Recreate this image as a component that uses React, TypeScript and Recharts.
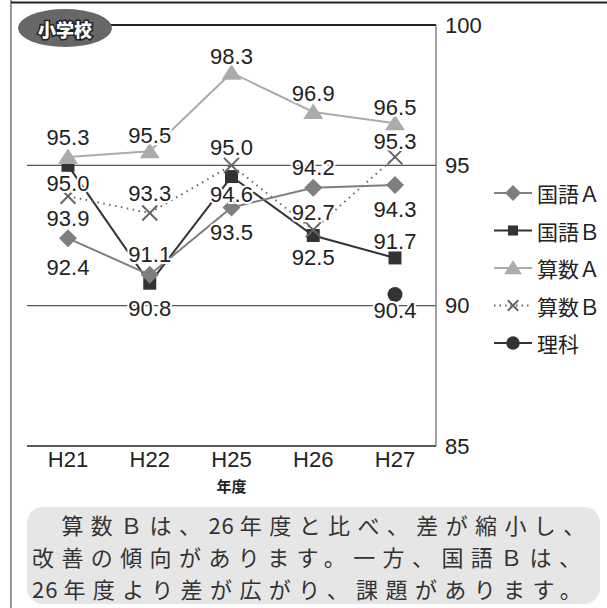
import React from 'react';
import { LineChart, Line, XAxis, YAxis, ReferenceLine, LabelList, Legend } from 'recharts';

const categories = ['H21', 'H22', 'H25', 'H26', 'H27'];
const kokugoA = [92.4, 91.1, 93.5, 94.2, 94.3];
const kokugoB = [95.0, 90.8, 94.6, 92.5, 91.7];
const sansuA = [95.3, 95.5, 98.3, 96.9, 96.5];
const sansuB = [93.9, 93.3, 95.0, 92.7, 95.3];
const rika = [null, null, null, null, 90.4];
const yTicks = [85, 90, 95, 100];
const gridValues = [90, 95];

const seriesNames = ['国語Ａ', '国語Ｂ', '算数Ａ', '算数Ｂ', '理科'];

// label vertical offsets (style only)
const offKA = [29, -20, 25, -20, 25];
const offKB = [18, 25, 18, 22, -16];
const offSA = [-19, -16, -16, -19, -16];
const offSB = [22, -20, -18, -17, -15];
const offRK = [0, 0, 0, 0, 16];

const data = categories.map((c, i) => ({
  year: c,
  kA: kokugoA[i],
  kB: kokugoB[i],
  sA: sansuA[i],
  sB: sansuB[i],
  rk: rika[i],
}));

const NUM_FONT = '"Liberation Sans", Arial, Helvetica, sans-serif';
const JP_FONT = '"Noto Sans CJK JP", "Noto Sans", sans-serif';

const C_KA = '#7f7f7f';
const C_KB = '#333333';
const C_SA = '#ababab';
const C_SB = '#666666';
const C_RK = '#333333';

type Shape = 'diamond' | 'square' | 'triangle' | 'cross' | 'circle';

function marker(shape: Shape, cx: number, cy: number, color: string, s: number, key?: any) {
  switch (shape) {
    case 'diamond':
      return <path key={key} d={`M${cx},${cy - s}L${cx + s},${cy}L${cx},${cy + s}L${cx - s},${cy}Z`} fill={color} />;
    case 'square':
      return <rect key={key} x={cx - s * 0.72} y={cy - s * 0.72} width={s * 1.44} height={s * 1.44} fill={color} />;
    case 'triangle':
      return <path key={key} d={`M${cx},${cy - s * 0.85}L${cx + s},${cy + s * 0.7}L${cx - s},${cy + s * 0.7}Z`} fill={color} />;
    case 'cross':
      return (
        <path key={key} d={`M${cx - s * 0.75},${cy - s * 0.75}L${cx + s * 0.75},${cy + s * 0.75}M${cx + s * 0.75},${cy - s * 0.75}L${cx - s * 0.75},${cy + s * 0.75}`}
          stroke={color} strokeWidth={2} fill="none" />
      );
    default:
      return <circle key={key} cx={cx} cy={cy} r={s * 0.75} fill={color} />;
  }
}

const dotRenderer = (shape: Shape, color: string, s: number) => (props: any) => {
  const { cx, cy, index, value } = props;
  if (cx == null || cy == null || value == null || (Array.isArray(value) && value[1] == null)) {
    return <g key={`e-${index}`} />;
  }
  return marker(shape, cx, cy, color, s, `d-${index}`);
};

const labelRenderer = (offsets: number[]) => (props: any) => {
  const { x, y, value, index } = props;
  if (value == null || x == null || y == null) return null;
  return (
    <text
      key={`l-${index}`}
      x={x}
      y={y + offsets[index]}
      textAnchor="middle"
      dominantBaseline="central"
      fontFamily={NUM_FONT}
      fontSize={22}
      fill="#222"
      stroke="#fff"
      strokeWidth={4}
      paintOrder="stroke"
    >
      {Number(value).toFixed(1)}
    </text>
  );
};

const legendItems: { name: string; shape: Shape; color: string; dash?: string; s: number }[] = [
  { name: seriesNames[0], shape: 'diamond', color: C_KA, s: 8 },
  { name: seriesNames[1], shape: 'square', color: C_KB, s: 7 },
  { name: seriesNames[2], shape: 'triangle', color: C_SA, s: 9 },
  { name: seriesNames[3], shape: 'cross', color: C_SB, dash: '1.5 4', s: 7 },
  { name: seriesNames[4], shape: 'circle', color: C_RK, s: 9 },
];

const LegendContent = () => (
  <svg width={117} height={190} style={{ display: 'block' }}>
    {legendItems.map((it, i) => {
      const cy = 18 + i * 37.5;
      return (
        <g key={it.name}>
          <line x1={4} x2={42} y1={cy} y2={cy} stroke={it.color} strokeWidth={2} strokeDasharray={it.dash} />
          {marker(it.shape, 23, cy, it.color, it.s)}
          <text x={47} y={cy} dominantBaseline="central" fontFamily={JP_FONT} fontSize={21} fill="#222">
            {it.name}
          </text>
        </g>
      );
    })}
  </svg>
);

const noteLines: string[][] = [
  ['　算数Ｂは、', '26', '年度と比べ、差が縮小し、'],
  ['改善の傾向があります。一方、国語Ｂは、'],
  ['', '26', '年度より差が広がり、課題があります。'],
];

export default function App() {
  return (
    <div style={{ position: 'absolute', left: 0, top: 0, width: 607, height: 608, background: '#fff', overflow: 'hidden' }}>
      <LineChart
        width={607}
        height={500}
        data={data}
        margin={{ top: 25, right: 111, bottom: 24, left: 27 }}
      >
        <XAxis
          dataKey="year"
          padding={{ left: 41, right: 41 }}
          axisLine={{ stroke: '#222', strokeWidth: 1.5 }}
          tickLine={false}
          tickSize={0}
          tickMargin={5}
          height={30}
          tick={{ fontSize: 22, fill: '#222', fontFamily: NUM_FONT }}
          label={{ value: '年度', position: 'bottom', offset: 5, fontSize: 15, fontWeight: 700, fill: '#222', fontFamily: JP_FONT }}
        />
        <YAxis
          orientation="right"
          domain={[85, 100]}
          ticks={yTicks}
          width={60}
          axisLine={{ stroke: '#666', strokeWidth: 1.2 }}
          tickLine={false}
          tickSize={0}
          tickMargin={9}
          tick={{ fontSize: 22, fill: '#222', fontFamily: NUM_FONT, textAnchor: 'start' }}
        />
        {gridValues.map((g) => (
          <ReferenceLine key={g} y={g} stroke="#555" strokeWidth={1.2} />
        ))}
        <ReferenceLine y={100} stroke="#222" strokeWidth={2} />
        <Legend
          layout="vertical"
          align="center"
          verticalAlign="middle"
          wrapperStyle={{ left: 490, top: 175, width: 117 }}
          content={LegendContent}
        />
        <Line dataKey="kB" name={seriesNames[1]} stroke={C_KB} strokeWidth={2} isAnimationActive={false}
          dot={dotRenderer('square', C_KB, 9)} activeDot={false}>
          <LabelList dataKey="kB" content={labelRenderer(offKB)} />
        </Line>
        <Line dataKey="sB" name={seriesNames[3]} stroke={C_SB} strokeWidth={2} strokeDasharray="1.5 4.5" isAnimationActive={false}
          dot={dotRenderer('cross', C_SB, 10)} activeDot={false}>
          <LabelList dataKey="sB" content={labelRenderer(offSB)} />
        </Line>
        <Line dataKey="kA" name={seriesNames[0]} stroke={C_KA} strokeWidth={2} isAnimationActive={false}
          dot={dotRenderer('diamond', C_KA, 9)} activeDot={false}>
          <LabelList dataKey="kA" content={labelRenderer(offKA)} />
        </Line>
        <Line dataKey="sA" name={seriesNames[2]} stroke={C_SA} strokeWidth={2} isAnimationActive={false}
          dot={dotRenderer('triangle', C_SA, 10)} activeDot={false}>
          <LabelList dataKey="sA" content={labelRenderer(offSA)} />
        </Line>
        <Line dataKey="rk" name={seriesNames[4]} stroke={C_RK} strokeWidth={2} isAnimationActive={false}
          dot={dotRenderer('circle', C_RK, 10)} activeDot={false}>
          <LabelList dataKey="rk" content={labelRenderer(offRK)} />
        </Line>
      </LineChart>

      <svg width={607} height={608} style={{ position: 'absolute', left: 0, top: 0, pointerEvents: 'none' }}>
        <line x1={11} x2={11} y1={0} y2={608} stroke="#777" strokeWidth={1.5} />
        <line x1={11} x2={607} y1={2.5} y2={2.5} stroke="#222" strokeWidth={2} />
        <ellipse cx={65} cy={28} rx={47} ry={19} fill="#676767" />
        <text x={65} y={28.5} textAnchor="middle" dominantBaseline="central" fontFamily={JP_FONT}
          fontWeight={900} fontSize={18} fill="#fff" stroke="#222" strokeWidth={3} paintOrder="stroke">
          小学校
        </text>
      </svg>

      <div
        style={{
          position: 'absolute',
          left: 27,
          top: 507,
          width: 573,
          height: 97,
          borderRadius: 16,
          background: '#e6e6e6',
          boxSizing: 'border-box',
          paddingLeft: 5,
          paddingTop: 1,
          fontFamily: JP_FONT,
          fontWeight: 400,
          fontSize: 22,
          lineHeight: '32px',
          letterSpacing: 7.4,
          color: '#333',
          whiteSpace: 'nowrap',
        }}
      >
        {noteLines.map((parts, li) => (
          <div key={li} style={{ height: 32 }}>
            {parts.map((p, pi) =>
              /^\d+$/.test(p) ? (
                <span key={pi} style={{ letterSpacing: 1, paddingRight: 5 }}>{p}</span>
              ) : (
                <span key={pi}>{p}</span>
              )
            )}
          </div>
        ))}
      </div>
    </div>
  );
}
